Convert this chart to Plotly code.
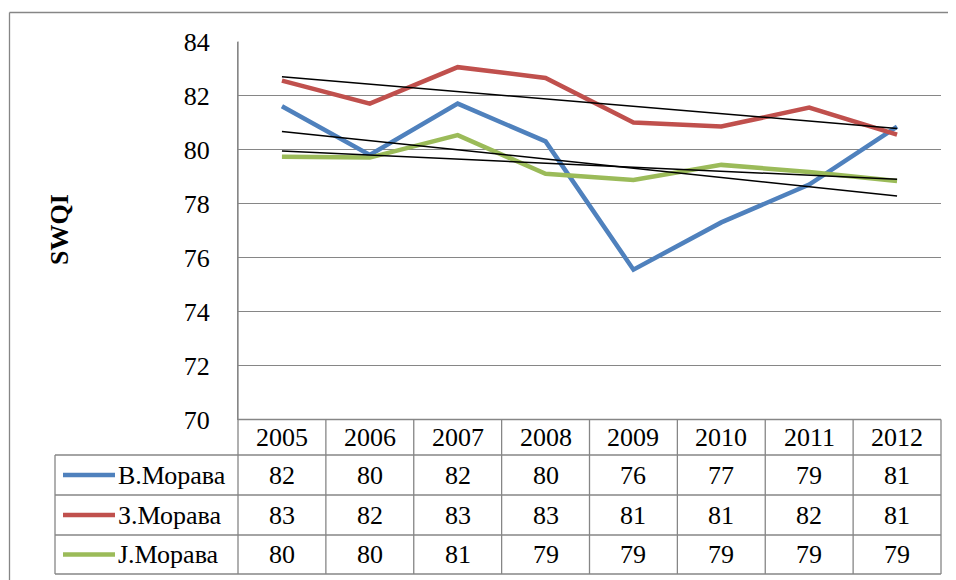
import numpy as np
import plotly.graph_objects as go

years = ["2005", "2006", "2007", "2008", "2009", "2010", "2011", "2012"]
names = ["В.Морава", "З.Морава", "J.Морава"]
v_morava = [81.6, 79.8, 81.7, 80.3, 75.55, 77.3, 78.7, 80.85]
z_morava = [82.55, 81.7, 83.05, 82.65, 81.0, 80.85, 81.55, 80.55]
j_morava = [79.73, 79.7, 80.53, 79.1, 78.87, 79.43, 79.17, 78.83]
colors = ["#4F81BD", "#C0504D", "#9BBB59"]
series = [v_morava, z_morava, j_morava]

W, H = 956, 580
OFF = 8  # page body margin
FONT = "Liberation Serif"
GRID = "#868686"


def px(x):
    return (x - OFF) / W


def py(y):
    return 1 - (y - OFF) / H


# plot area in screen pixels
x0, x1 = 238, 941
ytop, ybot = 41.5, 419.5
col_w = (x1 - x0) / len(years)
rows = [419.5, 455, 495, 535, 574]
tab_left = 55

fig = go.Figure()

for name, vals, c in zip(names, series, colors):
    fig.add_trace(go.Scatter(x=years, y=vals, mode="lines", name=name,
                             line=dict(color=c, width=4.5), showlegend=False))

# linear trend lines
for vals in series:
    k, b = np.polyfit(np.arange(len(vals)), vals, 1)
    fig.add_trace(go.Scatter(x=[years[0], years[-1]], y=[b, b + k * (len(vals) - 1)],
                             mode="lines", line=dict(color="black", width=1.5),
                             showlegend=False, hoverinfo="skip"))

shapes = []
line = dict(color=GRID, width=1.3)
# outer chart frame (runs off the right and bottom edges)
shapes.append(dict(type="line", xref="paper", yref="paper", x0=px(9.5), x1=px(W + 20),
                   y0=py(12.5), y1=py(12.5), line=line))
shapes.append(dict(type="line", xref="paper", yref="paper", x0=px(9.5), x1=px(9.5),
                   y0=py(12.5), y1=py(H + 20), line=line))
# table horizontal lines
shapes.append(dict(type="line", xref="paper", yref="paper", x0=px(x0), x1=px(x1),
                   y0=py(rows[0]), y1=py(rows[0]), line=line))
for r in rows[1:]:
    shapes.append(dict(type="line", xref="paper", yref="paper", x0=px(tab_left), x1=px(x1),
                       y0=py(r), y1=py(r), line=line))
# table vertical lines
shapes.append(dict(type="line", xref="paper", yref="paper", x0=px(tab_left), x1=px(tab_left),
                   y0=py(rows[1]), y1=py(rows[-1]), line=line))
shapes.append(dict(type="line", xref="paper", yref="paper", x0=px(x0), x1=px(x0),
                   y0=py(ytop), y1=py(rows[-1]), line=line))
for i in range(1, len(years) + 1):
    xx = x0 + i * col_w
    shapes.append(dict(type="line", xref="paper", yref="paper", x0=px(xx), x1=px(xx),
                       y0=py(rows[0]), y1=py(rows[-1]), line=line))

annotations = []
tfont = dict(family=FONT, size=26, color="black")
cell = dict(xref="paper", yref="paper", showarrow=False, font=tfont,
            xanchor="center", yanchor="middle")
for i, yr in enumerate(years):
    cx = x0 + (i + 0.5) * col_w
    annotations.append(dict(cell, x=px(cx), y=py((rows[0] + rows[1]) / 2), text=yr))
for j, (name, vals, c) in enumerate(zip(names, series, colors)):
    cy = (rows[j + 1] + rows[j + 2]) / 2
    shapes.append(dict(type="line", xref="paper", yref="paper", x0=px(63), x1=px(115),
                       y0=py(cy), y1=py(cy), line=dict(color=c, width=4.5)))
    annotations.append(dict(cell, x=px(116), y=py(cy), xanchor="left", text=name))
    for i, v in enumerate(vals):
        cx = x0 + (i + 0.5) * col_w
        annotations.append(dict(cell, x=px(cx), y=py(cy), text=str(int(round(v)))))

annotations.append(dict(cell, x=px(59), y=py(230), text="<b>SWQI</b>", textangle=-90))

fig.update_layout(
    template="none",
    width=W, height=H,
    margin=dict(l=0, r=0, t=0, b=0, pad=0),
    paper_bgcolor="white", plot_bgcolor="white",
    font=dict(family=FONT, size=26, color="black"),
    shapes=shapes, annotations=annotations,
    xaxis=dict(domain=[px(x0), px(x1)], range=[-0.5, 7.5], type="category",
               showticklabels=False, showgrid=False, zeroline=False, showline=False,
               ticks="", automargin=False),
    yaxis=dict(domain=[py(ybot), py(ytop)], range=[70, 84], dtick=2, tick0=70,
               showgrid=True, gridcolor=GRID, gridwidth=1.3, zeroline=False,
               showline=True, linecolor=GRID, linewidth=1.3, ticks="",
               ticklabelstandoff=22, automargin=False,
               tickfont=dict(family=FONT, size=26, color="black")),
)

fig.write_html("out.html", post_script="document.documentElement.style.overflow='hidden';")
